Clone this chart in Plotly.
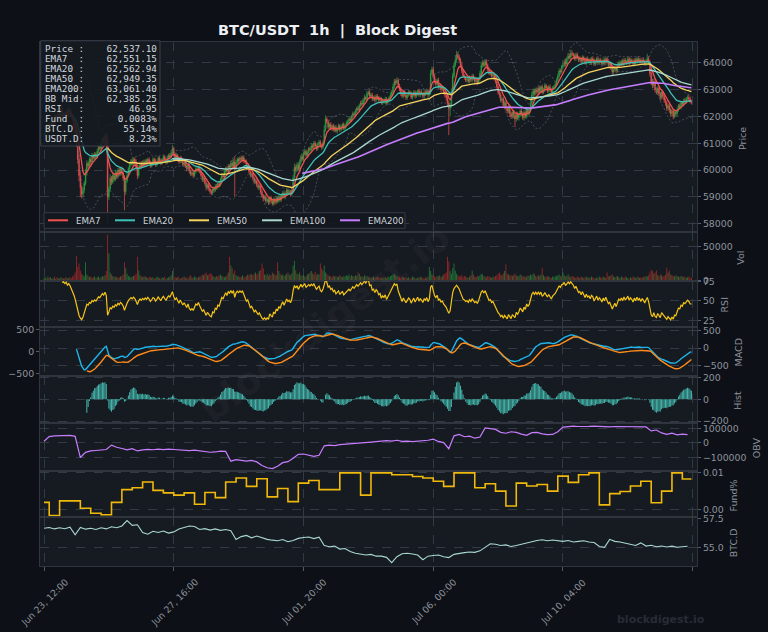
import numpy as np
import pandas as pd
import plotly.graph_objects as go

# ---------------- data ----------------
N_BARS = 500
tick_labels = ['Jun 23, 12:00', 'Jun 27, 16:00', 'Jul 01, 20:00', 'Jul 06, 00:00', 'Jul 10, 04:00', '']
first_open = 61300

close = [
 61350,61600,61450,61700,61550,61800,61650,61900,61800,62050,61900,62150,62050,62300,61950,62100,62000,62200,62050,62250,
 62150,62000,61900,61650,61400,61000,60400,59800,59350,59100,59250,59500,59900,60250,60150,60400,60300,60550,60450,60600,
 60500,60700,60850,60800,61000,61150,61050,61300,61100,59000,59300,59700,59550,59800,59650,59900,59750,60000,59850,60050,
 59900,59700,59200,59600,59800,60050,60200,60350,60250,60400,60300,60100,59800,60100,60250,60150,60300,60200,60350,60250,
 60400,60300,60150,60250,60400,60350,60200,60300,60450,60350,60250,60400,60500,60400,60300,60450,60550,60500,60650,60800,
 60600,60450,60550,60400,60300,60450,60350,60200,60300,60150,60050,60200,59950,59850,59900,59800,59950,60050,60000,60100,
 59950,59800,59650,59700,59500,59350,59450,59300,59200,59150,59300,59250,59400,59350,59500,59450,59650,59800,59750,59950,
 60050,59950,60150,60100,60250,60150,60300,60050,60300,60400,60350,60450,60400,60470,60350,60300,60100,60150,59950,59800,
 59850,59700,59550,59600,59450,59350,59400,59200,59050,58950,59000,58850,58900,58800,58950,58850,58750,58900,58800,58950,
 58850,59000,58900,59050,59150,59000,59100,59250,59150,59200,59100,59250,59700,60100,60000,60200,60050,60300,60500,60400,
 60600,60700,60550,60650,60800,60750,60900,60850,61000,60900,60800,60950,61050,60900,60850,61000,61500,61900,61800,61600,
 61700,61550,61650,61500,61600,61450,61550,61650,61500,61600,61700,61550,61650,61750,61800,61900,61850,62000,62100,62050,
 62200,62300,62250,62400,62500,62450,62600,62700,62650,62850,62900,62750,62800,62650,62700,62600,62750,62700,62600,62650,
 62500,62600,62550,62650,62500,62600,62700,62800,62900,63100,63300,63250,63350,63150,63000,62850,62750,62900,62800,62700,
 62800,62900,62850,62700,62800,62900,62750,62850,62950,62800,62900,62850,62750,62900,62850,62950,62800,62900,63600,63750,
 63500,63300,63200,63350,63100,63150,63000,63050,62900,62800,62700,62500,62300,62400,62900,63500,63900,64100,64300,64200,
 64100,63900,63700,63500,63450,63350,63400,63300,63450,63350,63500,63400,63300,63350,63250,63400,63600,63900,64000,63900,
 64050,63900,63750,63600,63650,63500,63550,63400,63300,63100,62900,62800,62600,62650,62400,62500,62300,62200,62350,62100,
 62000,62150,62050,61900,62100,61950,62050,62200,62100,61950,62150,62000,62250,62100,62200,62500,62800,62950,62850,63000,
 62900,63050,62950,63100,62900,63000,63150,63050,62950,63100,63000,62900,63050,63100,63200,63350,63500,63700,63650,63850,
 63900,64050,63950,64150,64250,64200,64350,64300,64250,64150,64300,64200,64100,64150,64050,64200,64100,64000,64150,64050,
 64100,64000,64150,64100,63950,64050,64150,64000,64100,64050,63950,64100,64000,64150,64050,63900,63950,63800,63650,63750,
 63850,63700,63900,64000,63950,64050,63950,64100,64000,64050,64150,64000,64100,64050,63950,64100,64000,64150,64050,64100,
 64000,64100,64050,63950,64050,64150,64000,63600,63300,63150,63300,63000,62900,63050,62850,62700,62900,62750,62600,62500,
 62300,62400,62250,62100,62200,62000,62150,62100,62250,62400,62350,62500,62450,62600,62550,62650,62700,62650,62550,62537.1,
]

# wick lengths beyond the candle body, in units of $10
up_wick = [
 6,5,8,4,7,5,6,9,5,7,6,8,5,9,6,5,7,4,6,8, 5,7,6,8,10,12,15,20,14,10,12,9,15,11,8,10,7,9,6,8,
 7,9,6,8,10,7,9,8,12,18,10,14,8,9,7,11,6,8,9,7, 8,6,10,12,9,7,8,6,9,7,8,10,12,9,7,8,6,9,5,7,
 6,8,5,7,9,6,8,5,7,6,8,5,9,6,7,8,6,9,10,14, 8,6,9,5,7,8,6,9,5,7,6,8,5,7,6,8,5,7,6,8,
 7,9,6,8,7,10,6,8,9,7,6,8,7,9,6,8,7,10,6,8, 7,9,8,6,10,14,12,22,9,7,8,6,9,7,8,6,9,7,5,8,
 6,8,7,9,6,8,7,9,8,6,7,9,6,8,7,9,6,8,7,9, 6,8,7,9,8,6,7,9,6,8,7,9,12,15,10,9,8,10,7,9,
 8,10,7,9,6,8,10,7,9,8,6,9,8,7,9,10,18,14,10,8, 7,9,6,8,7,9,6,8,7,9,6,8,7,9,8,7,9,6,8,7,
 8,6,9,7,8,10,6,9,7,8,6,9,7,8,6,9,7,8,6,9, 7,8,6,9,7,8,6,9,8,12,10,9,11,8,7,9,6,8,7,9,
 6,8,7,9,6,8,7,9,6,8,7,9,6,8,7,9,6,8,12,10, 9,8,10,7,9,8,6,9,7,8,6,9,8,10,14,12,10,18,15,9,
 10,8,9,7,8,6,9,7,8,6,9,7,8,6,9,7,10,12,9,8, 9,8,7,9,6,8,7,9,6,8,10,7,9,8,7,9,8,7,9,6,
 8,7,9,6,8,7,9,6,8,7,9,6,8,7,9,10,12,9,8,7, 8,7,9,6,8,7,9,6,8,7,9,6,8,7,9,8,10,9,8,7,
 9,8,10,7,12,9,14,10,8,9,7,8,6,9,7,8,6,9,7,8, 6,8,7,9,6,8,7,9,6,8,7,9,6,8,7,9,6,8,7,9,
 8,6,9,7,8,6,9,7,8,6,9,7,8,6,9,7,8,6,9,7, 8,6,9,7,8,18,10,9,8,10,7,9,8,6,9,7,8,6,9,7,
 8,6,9,7,8,6,9,7,8,6,9,7,8,6,9,7,8,10,9,7,
]
dn_wick = [
 5,7,6,8,5,9,6,7,8,5,6,9,7,5,8,6,7,9,5,6, 7,6,8,9,11,14,18,22,35,16,12,10,8,11,9,7,10,8,6,9,
 8,6,9,7,6,8,7,10,9,95,12,9,11,7,8,6,9,7,8,6, 9,10,70,12,8,7,9,6,8,7,9,11,14,8,7,9,6,8,7,9,
 6,8,7,5,9,6,8,7,6,9,7,5,8,6,9,7,5,8,6,9, 7,8,6,9,7,5,8,6,9,7,10,6,9,8,7,9,6,8,7,9,
 8,7,9,10,8,11,7,9,10,8,7,9,6,8,7,9,6,8,7,9, 8,6,9,7,10,12,9,105,8,7,9,6,8,7,9,6,8,7,9,8,
 7,9,8,6,9,7,8,10,9,11,8,9,7,10,8,9,7,8,9,7, 8,6,9,7,8,6,9,7,8,6,9,7,8,6,9,7,8,6,9,7,
 8,6,9,7,8,6,9,7,8,6,9,7,8,6,9,7,8,6,9,7, 8,6,9,7,8,6,9,7,8,6,9,7,8,6,9,7,8,6,9,7,
 6,8,7,9,6,8,7,9,6,8,7,9,6,8,7,9,6,8,7,9, 6,8,7,9,6,8,7,9,6,8,7,9,6,8,7,9,6,8,7,9,
 8,7,9,6,8,7,9,6,8,7,9,6,8,7,9,6,8,7,9,6, 8,7,9,6,8,7,9,6,8,10,12,14,100,30,9,7,8,6,9,7,
 8,7,9,6,8,7,9,6,8,7,9,6,8,7,9,6,8,7,9,6, 8,7,9,6,8,7,9,6,8,7,9,11,8,10,9,12,8,10,9,12,
 10,9,12,30,10,9,11,8,10,9,11,8,9,7,8,6,9,7,8,6, 8,7,9,6,8,7,9,6,8,7,9,6,8,7,9,6,8,7,9,6,
 8,7,9,6,8,7,9,6,8,7,9,6,8,7,9,6,8,7,9,6, 8,7,9,6,8,7,9,6,8,7,9,6,8,7,9,6,8,7,12,9,
 8,10,7,9,6,8,7,9,6,8,7,9,6,8,7,9,6,8,7,9, 8,7,9,6,8,7,9,12,14,10,9,11,8,10,9,12,8,10,9,11,
 10,9,12,10,9,11,8,10,9,8,7,9,6,8,7,9,6,8,7,9,
]

# hourly volume, thousands
volume_k = [
 4,5,3,6,4,5,3,4,6,3,5,4,3,5,4,3,4,5,3,4, 5,4,6,8,12,36,20,25,15,10,8,6,27,9,7,5,6,4,5,6,
 4,5,6,4,5,7,6,8,14,67,40,12,9,7,6,5,6,4,5,6, 7,9,27,18,10,7,6,5,6,7,8,10,35,15,8,6,5,7,6,5,
 4,5,6,4,5,3,4,6,5,4,3,5,4,6,3,4,5,6,8,14, 6,5,4,6,5,3,4,5,6,4,5,3,6,8,5,4,6,5,4,5,
 6,7,9,8,10,12,8,9,11,10,7,6,5,7,6,8,9,7,6,5, 6,8,12,35,22,18,10,15,8,6,7,5,6,8,5,6,7,9,8,10,
 9,8,10,12,9,11,14,16,25,18,9,8,10,7,9,8,12,10,9,8, 27,14,10,8,9,7,8,10,12,9,8,11,22,29,15,10,9,12,8,7,
 8,6,7,9,10,12,14,11,9,13,8,10,9,25,18,15,22,12,10,8, 7,6,5,8,6,7,5,6,8,6,5,7,6,8,7,9,6,8,7,6,
 8,7,12,10,6,7,5,8,6,7,5,6,4,5,6,4,5,6,5,4, 5,4,6,5,4,6,5,7,8,9,10,8,7,6,5,4,6,5,4,5,
 4,5,3,4,6,5,4,3,5,4,6,5,4,3,5,4,6,20,14,9, 8,6,5,7,6,8,5,7,9,10,12,35,28,14,10,18,25,15,10,8,
 7,6,8,5,7,6,5,4,6,8,15,9,6,5,7,6,8,10,9,7, 6,5,7,6,5,4,6,5,7,8,10,12,9,8,11,14,24,10,9,8,
 8,7,9,10,8,6,7,9,8,6,7,5,6,8,7,9,8,10,10,7, 6,8,7,9,19,8,6,5,7,6,5,4,6,5,7,6,8,9,7,6,
 12,8,6,7,9,6,5,7,6,5,4,6,5,4,6,5,4,5,6,4, 5,4,6,5,4,3,5,4,6,5,4,6,5,4,12,6,7,8,9,6,
 5,6,7,5,4,6,5,4,6,5,4,3,5,4,6,5,4,5,6,4, 5,4,6,5,7,6,8,12,16,14,10,12,15,8,7,9,8,6,7,9,
 19,12,15,9,8,7,6,8,7,6,5,7,6,5,6,4,5,6,4,5,
]

# OBV (thousands) and BTC dominance (%), read every 4 hours
obv_k = [
 11,43,48,50,50,52,45,-100,-65,-55,-52,-50,-45,
 -15,-30,-38,-48,-40,-55,-48,-44,-47,-43,-46,-42,
 -45,-48,-50,-53,-50,-55,-60,-64,-62,-56,-58,
 -125,-115,-118,-125,-120,-130,-155,-170,-176,-160,
 -135,-128,-105,-78,-76,-82,-92,-85,-20,-15,
 -18,-12,-10,-8,-5,-4,0,5,8,12,15,12,
 18,10,12,8,10,14,18,25,10,2,-40,48,
 58,42,46,32,40,102,98,92,72,66,76,72,
 60,52,70,72,62,56,58,76,108,112,114,112,
 110,113,115,112,114,110,112,111,113,110,108,
 111,109,82,88,68,58,66,55,60,56,
]
btc_dom = [
 56.65,56.72,56.60,56.70,56.62,56.75,56.10,56.72,56.58,56.66,56.55,56.70,56.60,
 56.78,56.70,56.85,57.30,56.90,56.95,56.30,56.15,56.40,56.30,56.42,56.25,
 56.35,56.60,56.75,56.85,56.80,56.55,56.62,56.50,56.60,56.48,56.55,
 56.45,55.70,55.95,56.05,55.85,56.00,55.85,55.72,55.65,55.60,
 55.70,55.52,55.62,55.80,55.88,55.92,55.78,55.90,55.20,55.10,
 55.15,54.90,54.95,54.70,54.55,54.50,54.40,54.45,54.30,54.30,
 54.20,53.75,54.25,54.50,54.55,54.48,54.40,54.00,54.30,54.35,
 54.40,54.25,54.18,54.45,54.55,54.60,54.65,54.62,54.75,55.05,
 55.35,55.30,55.20,55.25,55.12,55.20,55.30,55.45,55.55,55.62,
 55.68,55.60,55.66,55.58,55.55,55.62,55.50,55.55,55.60,55.50,
 55.45,55.12,55.05,55.72,55.55,55.50,55.40,55.32,55.20,55.42,
 55.15,55.22,55.10,55.16,55.08,55.15,55.05,55.10,55.14,
]

# funding rate (%) per 8h funding window (first window is partial)
fund_rate = [
 0.0019,-0.0017,0.0023,0.0023,0.0003,-0.0011,-0.0015,0.0019,0.0054,0.0059,0.0075,0.0052,0.0045,0.0039,
 0.0045,0.0014,0.0046,0.0032,0.0075,0.0086,0.0063,0.0084,0.0034,0.0057,0.0021,0.0072,0.0079,0.0054,
 0.0054,0.0100,0.0100,0.0039,0.0100,0.0100,0.0095,0.0095,0.0090,0.0086,0.0077,0.0063,0.0100,0.0100,
 0.0059,0.0070,0.0050,0.0009,0.0072,0.0064,0.0068,0.0050,0.0091,0.0074,0.0095,0.0100,0.0012,0.0043,
 0.0049,0.0064,0.0077,0.0018,0.0050,0.0100,0.0083,
]

# info panel as printed on the chart
info_labels = ['Price', 'EMA7', 'EMA20', 'EMA50', 'EMA200', 'BB Mid', 'RSI', 'Fund', 'BTC.D', 'USDT.D']
info_values = ['62,537.10', '62,551.15', '62,562.94', '62,949.35', '63,061.40', '62,385.25',
               '46.95', '0.0083%', '55.14%', '8.23%']
ema_periods = [7, 20, 50, 100, 200]

# ---------------- derived series ----------------
x = np.arange(N_BARS)
c = pd.Series(close, dtype=float)
o = c.shift(1)
o.iloc[0] = first_open
hi = np.maximum(o, c) + np.array(up_wick) * 10
lo = np.minimum(o, c) - np.array(dn_wick) * 10

ema = {n: c.ewm(span=n, adjust=True, min_periods=n).mean() for n in ema_periods}
bb_mid = c.rolling(20).mean()
bb_sd = c.rolling(20).std()
bb_up, bb_dn = bb_mid + 2 * bb_sd, bb_mid - 2 * bb_sd

d = c.diff()
ag = d.clip(lower=0).ewm(alpha=1 / 14, adjust=False, min_periods=14).mean()
al = (-d.clip(upper=0)).ewm(alpha=1 / 14, adjust=False, min_periods=14).mean()
rsi = 100 - 100 / (1 + ag / al)

macd = c.ewm(span=12, adjust=False).mean() - c.ewm(span=26, adjust=False).mean()
macd[:25] = np.nan
signal = macd.ewm(span=9, adjust=False, min_periods=9).mean()
hist = macd - signal

vol = np.array(volume_k) * 1000
up_bar = (c >= o).values
obv_x = np.arange(0, N_BARS, 4)
fund_x = [0] + list(range(4, N_BARS, 8)) + [N_BARS - 1]
fund_y = fund_rate + [fund_rate[-1]]

# ---------------- styling ----------------
BG = '#0d1016'
PANEL = '#161a21'
GRID = '#343a45'
SPINE = '#2f343d'
TXT = '#8e949e'
FONT = 'DejaVu Sans'
UP, DN = '#26a641', '#ef5350'
C_EMA = {7: '#ef5350', 20: '#3fc1b7', 50: '#f4d35e', 100: '#a9d8d1', 200: '#c77dff'}
TICK_FS = 9.4

W, H = 768, 632
L, R, T, B = 40, 71, 42, 66
PW, PH = W - L - R, H - T - B

def py(p):   # pixel y -> paper y
    return (H - B - p) / PH

def px(p):   # pixel x -> paper x
    return (p - L) / PW

bounds = [42, 232, 280.7, 327.3, 375.7, 422.7, 470.7, 517.3, 566]
domains = [[py(bounds[i + 1]), py(bounds[i])] for i in range(8)]

fig = go.Figure()

# price panel
for band in (bb_up, bb_dn):
    fig.add_trace(go.Scatter(x=x, y=band, mode='lines', line=dict(color='#535a67', width=0.8, dash='2px,2px'),
                             showlegend=False, hoverinfo='skip'))
fig.add_trace(go.Candlestick(x=x, open=o, high=hi, low=lo, close=c,
                             increasing=dict(line=dict(color=UP, width=0.7), fillcolor=UP),
                             decreasing=dict(line=dict(color=DN, width=0.7), fillcolor=DN),
                             whiskerwidth=0, showlegend=False))
for n in ema_periods:
    fig.add_trace(go.Scatter(x=x, y=ema[n], mode='lines', name=f'EMA{n}', showlegend=False,
                             line=dict(color=C_EMA[n], width=1.3 if n != 200 else 1.6)))

# volume
fig.add_trace(go.Bar(x=x, y=vol, marker=dict(color=np.where(up_bar, 'rgba(38,166,65,0.6)', 'rgba(214,48,45,0.6)'),
                                              line=dict(width=0)),
                     xaxis='x2', yaxis='y2', showlegend=False))
# RSI
fig.add_trace(go.Scatter(x=x, y=rsi, mode='lines', line=dict(color='#f5c518', width=1.2),
                         xaxis='x3', yaxis='y3', showlegend=False))
# MACD
fig.add_trace(go.Scatter(x=x, y=macd, mode='lines', line=dict(color='#1fb5ea', width=1.4),
                         xaxis='x4', yaxis='y4', showlegend=False))
fig.add_trace(go.Scatter(x=x, y=signal, mode='lines', line=dict(color='#ff8c1a', width=1.4),
                         xaxis='x4', yaxis='y9', showlegend=False))
# Hist
fig.add_trace(go.Bar(x=x, y=hist, marker=dict(color='rgba(78,214,200,0.85)', line=dict(width=0)),
                     xaxis='x5', yaxis='y5', showlegend=False))
# OBV
fig.add_trace(go.Scatter(x=obv_x, y=np.array(obv_k) * 1000, mode='lines', line=dict(color='#c77dff', width=1.2),
                         xaxis='x6', yaxis='y6', showlegend=False))
# Funding
fig.add_trace(go.Scatter(x=fund_x, y=fund_y, mode='lines', line=dict(color='#f0b90b', width=1.6, shape='hv'),
                         xaxis='x7', yaxis='y7', showlegend=False))
# BTC dominance
fig.add_trace(go.Scatter(x=obv_x, y=btc_dom, mode='lines', line=dict(color='#a9d8d1', width=1.1),
                         xaxis='x8', yaxis='y8', showlegend=False))

y_specs = [
    dict(range=[57694, 64770], tickvals=[58000, 59000, 60000, 61000, 62000, 63000, 64000], tickformat='d'),
    dict(range=[0, 71000], tickvals=[0, 50000], tickformat='d'),
    dict(range=[15.9, 76.3], tickvals=[25, 50, 75]),
    dict(range=[-786, 597], tickvals=[-500, 0, 500]),
    dict(range=[-215, 216], tickvals=[-200, 0, 200]),
    dict(range=[-190000, 138000], tickvals=[-100000, 0, 100000], tickformat='d'),
    dict(range=[-0.0022, 0.0106], tickvals=[0, 0.01], tickformat='.2f'),
    dict(range=[53.47, 57.58], tickvals=[55.0, 57.5], tickformat='.1f'),
]
titles = ['Price', 'Vol', 'RSI', 'MACD', 'Hist', 'OBV', 'Fund%', 'BTC.D']
title_x = [742.5, 741, 724, 737.5, 738, 756, 733, 733]

layout = dict(
    width=W, height=H, margin=dict(l=L, r=R, t=T, b=B, autoexpand=False),
    paper_bgcolor=BG, plot_bgcolor=PANEL,
    font=dict(family=FONT, color=TXT, size=11),
    bargap=0.25, showlegend=False, hovermode=False,
)
for i in range(8):
    k = '' if i == 0 else str(i + 1)
    layout['xaxis' + k] = dict(domain=[0, 1], anchor='y' + k, range=[-3.1, 503.3], automargin=False,
                               tickvals=[0, 100, 200, 300, 400, 500], showticklabels=False,
                               showgrid=True, gridcolor=GRID, griddash='dash', gridwidth=0.8,
                               zeroline=False, showline=True, mirror=True, linecolor=SPINE,
                               ticks='outside' if i == 7 else '', ticklen=4, tickcolor='#555b66',
                               rangeslider=dict(visible=False))
    if i > 0:
        layout['xaxis' + k]['matches'] = 'x'
    layout['yaxis' + k] = dict(domain=domains[i], anchor='x' + k, side='right', automargin=False,
                               showgrid=True, gridcolor=GRID, griddash='dash', gridwidth=0.8,
                               zeroline=False, showline=True, mirror=True, linecolor=SPINE,
                               ticks='outside', ticklen=3, tickcolor='#555b66',
                               tickfont=dict(size=TICK_FS, color=TXT), **y_specs[i])
layout['yaxis9'] = dict(overlaying='y4', anchor='x4', side='left', range=[-555, 562], automargin=False,
                        tickvals=[-500, 0, 500], showgrid=False, zeroline=False,
                        ticks='outside', ticklen=3, tickcolor='#555b66',
                        tickfont=dict(size=TICK_FS, color=TXT))
fig.update_layout(**layout)

ann = []
def note(text, xp, yp, size, color, xanchor='center', yanchor='middle', **kw):
    ann.append(dict(text=text, x=xp, y=yp, xref='paper', yref='paper', xanchor=xanchor, yanchor=yanchor,
                    showarrow=False, font=dict(size=size, color=color, family=kw.pop('family', FONT)), **kw))

# title
note('<b>BTC/USDT  1h  |  Block Digest</b>', px(337.5), py(30), 14.5, '#eceff3')
# axis titles
for i, t in enumerate(titles):
    note(t, px(title_x[i]), (domains[i][0] + domains[i][1]) / 2 - 1.5 / PH, 9.5, TXT, textangle=-90)
# x tick labels (centred under ticks like the reference)
for j, lab in enumerate(tick_labels):
    if lab:
        ann.append(dict(text=lab, x=j * 100, y=py(573.5), xref='x8', yref='paper', xanchor='center',
                        yanchor='top', textangle=-45, showarrow=False, font=dict(size=9.2, color=TXT)))
# watermarks
note('<b>blockdigest.io</b>', px(325), py(323), 38, 'rgba(255,255,255,0.045)', textangle=-37)
note('<b>blockdigest.io</b>', px(661), py(619), 11, '#272c35')
# legend (drawn like the reference's compact legend box)
fig.add_shape(type='rect', xref='paper', yref='paper', x0=px(44), x1=px(405), y0=py(228.3), y1=py(212.7),
              fillcolor='rgba(20,24,31,0.92)', line=dict(color='#363b45', width=1), layer='above')
leg_x = [48, 115, 189, 262, 340]
for n, lx in zip(ema_periods, leg_x):
    fig.add_shape(type='line', xref='paper', yref='paper', x0=px(lx), x1=px(lx + 20), y0=py(220.3), y1=py(220.3),
                  line=dict(color=C_EMA[n], width=2), layer='above')
    note(f'EMA{n}', px(lx + 26), py(220.5), 8.7, '#d0d4da', xanchor='left')
# info box
for r, (lab, val) in enumerate(zip(info_labels, info_values)):
    note(f'{lab:<6}:{val:>13}'.replace(' ', '&nbsp;'), px(43), py(48.5 + 10 * r), 9.3, '#d4d8de',
         xanchor='left', family='DejaVu Sans Mono')
fig.update_layout(annotations=ann)
fig.add_shape(type='rect', xref='paper', yref='paper', x0=px(40.7), x1=px(160), y0=py(146), y1=py(40.7),
              fillcolor='rgba(22,26,33,0.88)', line=dict(color='#3a3f4a', width=1), layer='above')

fig.write_html('out.html')
